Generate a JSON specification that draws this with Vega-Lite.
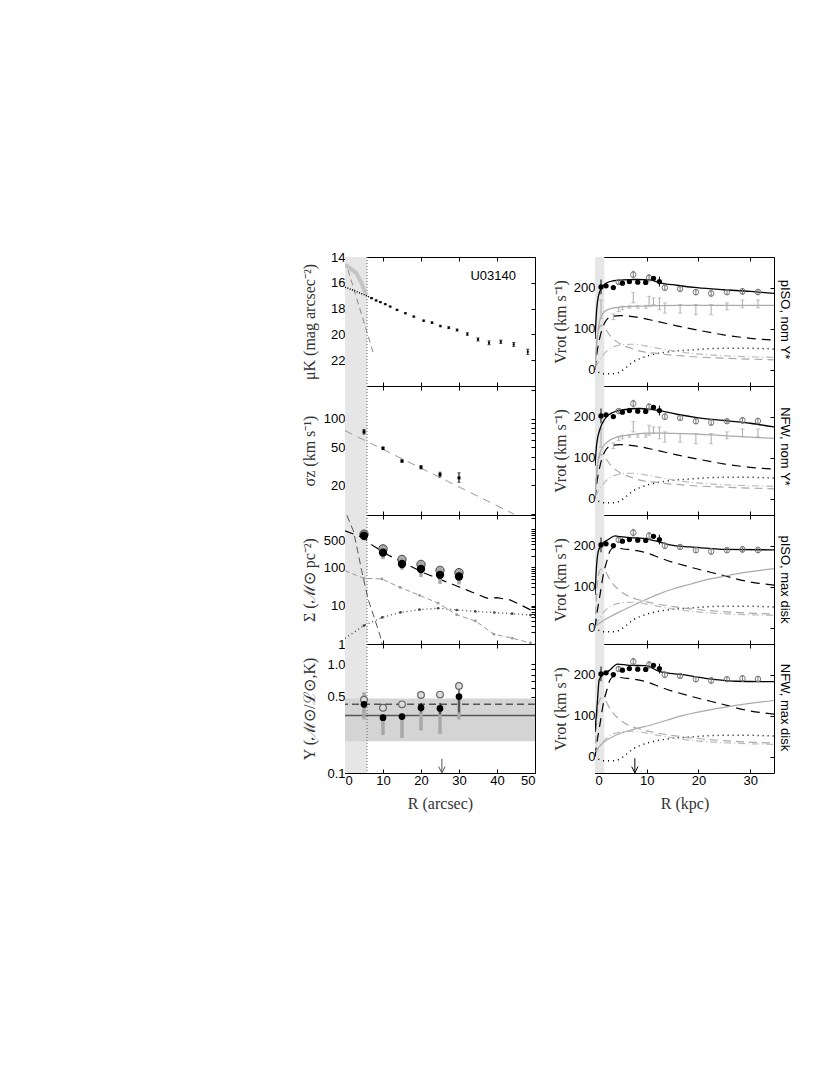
{
"$schema": "https://vega.github.io/schema/vega-lite/v6.json",
"padding": {"left": 300, "top": 250, "right": 20, "bottom": 20},
"background": "white",
"config": {
  "view": {"stroke": "#000", "strokeWidth": 1},
  "axis": {"tickSize": -4, "domain": false, "grid": false, "tickColor": "#000", "labelFont": "Liberation Sans", "labelFontSize": 13, "labelColor": "#000", "labelPadding": 4, "titleFont": "Liberation Serif", "titleFontSize": 16, "titleFontWeight": "normal", "titleColor": "#333"}
},
"datasets": {
  "shL": [{"x": 0, "x2": 5.8}],
  "vlL": [{"x": 5.8}],
  "shR": [{"x": 0, "x2": 1.8}],
  "lab": [{"x": 39, "y": 15.5, "t": "U03140"}],
  "L1in": [{"x":0,"y":16.34},{"x":1,"y":16.44},{"x":2,"y":16.56},{"x":3,"y":16.68},{"x":4,"y":16.8},{"x":5,"y":16.92},{"x":5.8,"y":17.02},{"x":7.0,"y":17.19}],
  "L1g": [{"x":0,"y":14.6},{"x":1.3,"y":14.86},{"x":3,"y":15.25},{"x":4.3,"y":16.0},{"x":5.2,"y":16.7},{"x":5.8,"y":16.95}],
  "L1b": [{"x":0.8,"y":15.0},{"x":7.6,"y":21.6}],
  "L1p": [{"x":7.0,"y":17.19,"lo":17.15,"hi":17.23},{"x":8.2,"y":17.37,"lo":17.33,"hi":17.41},{"x":9.3,"y":17.5,"lo":17.46,"hi":17.54},{"x":10.6,"y":17.66,"lo":17.62,"hi":17.7},{"x":11.9,"y":17.84,"lo":17.8,"hi":17.88},{"x":13.7,"y":18.1,"lo":18.05,"hi":18.15},{"x":15.9,"y":18.36,"lo":18.31,"hi":18.41},{"x":18.1,"y":18.62,"lo":18.57,"hi":18.67},{"x":20.7,"y":18.94,"lo":18.89,"hi":18.99},{"x":22.9,"y":19.09,"lo":19.03,"hi":19.15},{"x":25.1,"y":19.35,"lo":19.29,"hi":19.41},{"x":27.3,"y":19.48,"lo":19.41,"hi":19.55},{"x":29.5,"y":19.66,"lo":19.58,"hi":19.74},{"x":32.2,"y":19.97,"lo":19.87,"hi":20.07},{"x":35.0,"y":20.39,"lo":20.27,"hi":20.51},{"x":37.9,"y":20.65,"lo":20.5,"hi":20.8},{"x":41.0,"y":20.57,"lo":20.44,"hi":20.7},{"x":44.4,"y":20.78,"lo":20.63,"hi":20.93},{"x":48.1,"y":21.35,"lo":21.15,"hi":21.55}],
  "L2l": [{"x":0,"y":75},{"x":44.5,"y":10}],
  "L2p": [{"x":5,"y":73,"lo":69,"hi":77},{"x":10,"y":49,"lo":47.5,"hi":50.5},{"x":15,"y":36,"lo":35,"hi":37},{"x":20,"y":31,"lo":29.8,"hi":32.2},{"x":25,"y":26,"lo":24.5,"hi":27.5},{"x":30,"y":24,"lo":21.6,"hi":27.1}],
  "L3d": [{"x":0,"y":900},{"x":4.8,"y":600},{"x":7.4,"y":366},{"x":11.8,"y":200},{"x":16.2,"y":121},{"x":20.6,"y":73},{"x":25,"y":49},{"x":29.4,"y":32.7},{"x":33.8,"y":21.8},{"x":37.3,"y":15.8},{"x":40,"y":16.2},{"x":43.4,"y":14.2},{"x":46,"y":10.8},{"x":48.7,"y":7.9},{"x":50,"y":6.8}],
  "L3b": [{"x":0.5,"y":2300},{"x":2.2,"y":900},{"x":3.3,"y":280},{"x":4.4,"y":81},{"x":6.1,"y":14.6},{"x":7.4,"y":6},{"x":9.2,"y":1.7},{"x":9.8,"y":0.95}],
  "L3g": [{"x":0,"y":82},{"x":5,"y":52},{"x":9.7,"y":50},{"x":14.5,"y":30},{"x":19.6,"y":18.7},{"x":24.5,"y":11.7},{"x":29.4,"y":5.8},{"x":34.3,"y":4.0},{"x":39.2,"y":1.8},{"x":44,"y":1.42},{"x":48.8,"y":1.06}],
  "L3o": [{"x":0,"y":1.4},{"x":5,"y":3.05},{"x":9.8,"y":4.95},{"x":14.6,"y":6.7},{"x":19.6,"y":7.9},{"x":24.5,"y":8.6},{"x":29.4,"y":7.75},{"x":34.3,"y":7.1},{"x":39.3,"y":6.65},{"x":44,"y":6.2},{"x":48.8,"y":5.7},{"x":50,"y":5.6}],
  "L3k": [{"x":5,"y":670},{"x":10,"y":243},{"x":15,"y":123},{"x":20,"y":91},{"x":25,"y":64},{"x":30,"y":58}],
  "L3y": [{"x":5,"y":738},{"x":10,"y":306},{"x":15,"y":162},{"x":20,"y":120},{"x":25,"y":84},{"x":30,"y":73}],
  "L3e": [{"x":5,"lo":508,"hi":700},{"x":10,"lo":164,"hi":260},{"x":15,"lo":87,"hi":130},{"x":20,"lo":56,"hi":96},{"x":25,"lo":37,"hi":68},{"x":30,"lo":36,"hi":62}],
  "L4band": [{"y":0.196,"y2":0.483}],
  "L4s": [{"y":0.338}],
  "L4d": [{"y":0.427}],
  "L4k": [{"x":5,"y":0.427},{"x":10,"y":0.322},{"x":15,"y":0.33},{"x":20,"y":0.398},{"x":25,"y":0.392},{"x":30,"y":0.503}],
  "L4y": [{"x":5,"y":0.47},{"x":10,"y":0.398},{"x":15,"y":0.427},{"x":20,"y":0.52},{"x":25,"y":0.525},{"x":30,"y":0.63}],
  "L4ge": [{"x":5,"lo":0.31,"hi":0.55},{"x":10,"lo":0.223,"hi":0.322},{"x":15,"lo":0.21,"hi":0.33},{"x":20,"lo":0.246,"hi":0.398},{"x":25,"lo":0.229,"hi":0.39},{"x":30,"lo":0.31,"hi":0.5}],
  "L4ke": [{"x":5,"lo":0.4,"hi":0.46},{"x":10,"lo":0.3,"hi":0.345},{"x":15,"lo":0.31,"hi":0.35},{"x":20,"lo":0.36,"hi":0.44},{"x":25,"lo":0.345,"hi":0.44},{"x":30,"lo":0.36,"hi":0.63}],
  "L4a": [{"x":25.5,"y":0.1,"y2":0.135,"h":0.107}],
  "Rk": [{"x":1.16,"y":202},{"x":2.13,"y":204.5},{"x":3.55,"y":200.3},{"x":5.3,"y":211},{"x":6.65,"y":215},{"x":8.26,"y":213.5},{"x":9.8,"y":213},{"x":11.3,"y":223},{"x":12.45,"y":215}],
  "Rke": [{"x":1.16,"lo":184,"hi":220},{"x":11.3,"lo":219,"hi":227},{"x":12.45,"lo":203,"hi":227}],
  "Ry": [{"x":4.58,"y":214,"lo":209,"hi":219},{"x":7.4,"y":232,"lo":224,"hi":240},{"x":10.45,"y":224,"lo":216,"hi":232},{"x":13.5,"y":200,"lo":193,"hi":207},{"x":16.45,"y":197,"lo":192,"hi":202},{"x":19.5,"y":189,"lo":183,"hi":195},{"x":22.45,"y":186,"lo":179,"hi":193},{"x":25.5,"y":189,"lo":184,"hi":194},{"x":28.5,"y":191,"lo":184,"hi":198},{"x":31.5,"y":189.5,"lo":183,"hi":196}],
  "Rg": [{"x":1.16,"lo":125,"hi":170},{"x":3.55,"lo":122,"hi":136},{"x":4.58,"lo":142,"hi":151},{"x":5.3,"lo":146,"hi":155},{"x":6.65,"lo":150,"hi":156},{"x":7.4,"lo":163,"hi":188},{"x":8.26,"lo":150,"hi":156},{"x":9.8,"lo":150,"hi":156},{"x":10.45,"lo":155,"hi":179},{"x":11.3,"lo":159,"hi":175},{"x":12.45,"lo":146,"hi":175},{"x":13.5,"lo":138,"hi":163},{"x":16.45,"lo":138,"hi":159},{"x":19.5,"lo":134,"hi":159},{"x":22.45,"lo":134,"hi":159},{"x":25.5,"lo":146,"hi":163},{"x":28.5,"lo":151,"hi":170},{"x":31.5,"lo":151,"hi":170}],
  "Rgas": [{"x":0,"y":5},{"x":1,"y":25},{"x":2,"y":42},{"x":3,"y":52},{"x":4.8,"y":60},{"x":7.4,"y":62},{"x":10.6,"y":56},{"x":13.9,"y":48},{"x":18.4,"y":40},{"x":24.8,"y":34},{"x":34.6,"y":30}],
  "Rdot": [{"x":0.65,"y":-6},{"x":1.6,"y":-10},{"x":3.55,"y":-10},{"x":4.8,"y":-6},{"x":6.1,"y":6},{"x":7.4,"y":19},{"x":8.7,"y":27},{"x":10.6,"y":35},{"x":13.9,"y":43},{"x":18.4,"y":48},{"x":24.8,"y":52},{"x":30,"y":52},{"x":34.6,"y":50}],
  "Rbn": [{"x":0,"y":0},{"x":0.3,"y":60},{"x":0.7,"y":98},{"x":1.2,"y":108},{"x":1.8,"y":102},{"x":3,"y":82},{"x":5,"y":62},{"x":7,"y":52},{"x":8.7,"y":45},{"x":11.9,"y":39.5},{"x":18.4,"y":32},{"x":24.8,"y":28},{"x":34.6,"y":24}],
  "Rbm": [{"x":0,"y":0},{"x":0.3,"y":80},{"x":0.7,"y":130},{"x":1.2,"y":143},{"x":1.8,"y":140},{"x":3,"y":115},{"x":5,"y":88},{"x":7,"y":74},{"x":8.7,"y":67},{"x":11.9,"y":58},{"x":18.4,"y":46},{"x":24.8,"y":39},{"x":34.6,"y":33}],
  "Rdn": [{"x":0,"y":0},{"x":0.32,"y":35},{"x":0.97,"y":80},{"x":1.9,"y":115},{"x":2.9,"y":128},{"x":4.8,"y":132},{"x":8.1,"y":128},{"x":11.9,"y":118},{"x":15.8,"y":107},{"x":19.7,"y":97},{"x":24.8,"y":85},{"x":30,"y":76.5},{"x":34.6,"y":72}],
  "Rdm": [{"x":0,"y":0},{"x":0.32,"y":30},{"x":0.97,"y":80},{"x":1.6,"y":129},{"x":2.3,"y":163},{"x":2.9,"y":187},{"x":3.55,"y":195},{"x":5.5,"y":192},{"x":8.1,"y":188},{"x":10.6,"y":180},{"x":12.6,"y":170},{"x":18.6,"y":147},{"x":24,"y":130},{"x":29.8,"y":112},{"x":34.6,"y":104}],
  "R1h": [{"x":0,"y":0},{"x":0.3,"y":60},{"x":0.7,"y":105},{"x":1.2,"y":130},{"x":2,"y":143},{"x":3,"y":149},{"x":5,"y":153},{"x":8,"y":155},{"x":12,"y":156.5},{"x":20,"y":157},{"x":34.6,"y":157}],
  "R2h": [{"x":0,"y":0},{"x":0.32,"y":60},{"x":0.97,"y":113},{"x":2.26,"y":137},{"x":4.2,"y":150},{"x":6.8,"y":155.5},{"x":10,"y":160},{"x":13.2,"y":160},{"x":18.4,"y":158},{"x":24.8,"y":154},{"x":30,"y":150},{"x":34.6,"y":147}],
  "R3h": [{"x":0,"y":3},{"x":2.26,"y":22},{"x":5.5,"y":43},{"x":8.7,"y":62},{"x":11.9,"y":80},{"x":15.2,"y":95},{"x":18.4,"y":106},{"x":21.6,"y":117},{"x":24.8,"y":125},{"x":28.1,"y":133},{"x":34.6,"y":144}],
  "R4h": [{"x":0,"y":12},{"x":1.45,"y":33},{"x":4,"y":52},{"x":7.3,"y":66},{"x":10.5,"y":76},{"x":16.9,"y":100},{"x":23.4,"y":117},{"x":27.2,"y":125},{"x":34.6,"y":137}],
  "R1t": [{"x":0,"y":75},{"x":0.32,"y":146},{"x":0.65,"y":179},{"x":1.29,"y":200},{"x":2.26,"y":212},{"x":3.55,"y":217},{"x":5.48,"y":219},{"x":8.06,"y":220},{"x":10.6,"y":219},{"x":12.6,"y":212},{"x":15.8,"y":206},{"x":19.7,"y":200},{"x":24.8,"y":195},{"x":30,"y":191},{"x":34.6,"y":186}],
  "R2t": [{"x":0,"y":80},{"x":0.32,"y":133},{"x":0.97,"y":170},{"x":1.94,"y":195},{"x":3.55,"y":211},{"x":5.5,"y":217},{"x":8.7,"y":220},{"x":11.9,"y":216},{"x":15.8,"y":206},{"x":19.7,"y":198},{"x":24.8,"y":191},{"x":30,"y":184},{"x":34.6,"y":175}],
  "R3t": [{"x":0,"y":80},{"x":0.32,"y":154},{"x":0.65,"y":187},{"x":1.29,"y":203},{"x":2.58,"y":215},{"x":3.87,"y":224},{"x":4.84,"y":222},{"x":6.8,"y":220},{"x":9.35,"y":218},{"x":11.9,"y":211},{"x":14.5,"y":202},{"x":18.4,"y":197},{"x":21.6,"y":194},{"x":24.8,"y":191},{"x":34.6,"y":190}],
  "R4t": [{"x":0,"y":60},{"x":0.48,"y":137},{"x":0.8,"y":187},{"x":1.45,"y":200},{"x":2.74,"y":210},{"x":4.35,"y":226},{"x":6.6,"y":223},{"x":9.86,"y":222},{"x":12.4,"y":208},{"x":16.9,"y":200},{"x":23.4,"y":188},{"x":27.2,"y":184},{"x":34.6,"y":183}],
  "R4a": [{"x":7.7,"y":-40,"y2":-4,"h":-32}]
},
"hconcat": [
 {"vconcat": [
  {"width":190,"height":129,"resolve":{"axis":{"x":"independent","y":"independent"}},
   "layer":[
    {"data":{"name":"shL"},"mark":{"type":"rect","color":"#e6e6e6"},"encoding":{"x":{"field":"x","type":"quantitative","axis":null},"x2":{"field":"x2"}}},
    {"data":{"name":"vlL"},"mark":{"type":"rule","color":"#666","strokeDash":[1,2]},"encoding":{"x":{"field":"x","type":"quantitative","axis":null}}},
    {"data":{"name":"L1g"},"mark":{"type":"line","color":"#c4c4c4","strokeWidth":4,"clip":true},"encoding":{"x":{"field":"x","type":"quantitative","axis":null},"y":{"field":"y","type":"quantitative","axis":null}}},
    {"data":{"name":"L1b"},"mark":{"type":"line","color":"#888","strokeWidth":1,"strokeDash":[6,4],"clip":true},"encoding":{"x":{"field":"x","type":"quantitative","axis":null},"y":{"field":"y","type":"quantitative","axis":null}}},
    {"data":{"name":"L1in"},"mark":{"type":"line","color":"#000","strokeWidth":1.5,"strokeDash":[1,1.5]},"encoding":{"x":{"field":"x","type":"quantitative","axis":null},"y":{"field":"y","type":"quantitative","axis":null}}},
    {"data":{"name":"L1p"},"mark":{"type":"errorbar","ticks":{"size":3},"color":"#000","thickness":1},"encoding":{"x":{"field":"x","type":"quantitative","axis":null},"y":{"field":"lo","type":"quantitative","axis":null},"y2":{"field":"hi"}}},
    {"data":{"name":"L1p"},"mark":{"type":"point","filled":true,"color":"#000","size":5,"opacity":1},"encoding":{
      "x":{"field":"x","type":"quantitative","scale":{"domain":[0,50],"nice":false,"zero":false},"axis":{"orient":"bottom","values":[0,10,20,30,40,50],"labels":false,"title":null}},
      "y":{"field":"y","type":"quantitative","scale":{"domain":[14,24],"reverse":true,"nice":false,"zero":false},"axis":{"orient":"left","values":[14,16,18,20,22],"labelPadding":4,"title":"μK (mag arcsec⁻²)","titleX":-28,"titleY":64.5,"titleBaseline":"bottom"}}}},
    {"data":{"name":"lab"},"mark":{"type":"text","font":"Liberation Sans","fontSize":13,"color":"#000"},"encoding":{
      "x":{"field":"x","type":"quantitative","scale":{"domain":[0,50],"nice":false,"zero":false},"axis":{"orient":"top","values":[0,10,20,30,40,50],"labels":false,"title":null}},
      "y":{"field":"y","type":"quantitative","scale":{"domain":[14,24],"reverse":true,"nice":false,"zero":false},"axis":{"orient":"right","values":[14,16,18,20,22],"labels":false,"title":null}},
      "text":{"field":"t"}}}
   ]},
  {"width":190,"height":129,"resolve":{"axis":{"x":"independent","y":"independent"}},
   "layer":[
    {"data":{"name":"shL"},"mark":{"type":"rect","color":"#e6e6e6"},"encoding":{"x":{"field":"x","type":"quantitative","axis":null},"x2":{"field":"x2"}}},
    {"data":{"name":"vlL"},"mark":{"type":"rule","color":"#666","strokeDash":[1,2]},"encoding":{"x":{"field":"x","type":"quantitative","axis":null}}},
    {"data":{"name":"L2l"},"mark":{"type":"line","color":"#999","strokeWidth":1,"strokeDash":[8,6],"clip":true},"encoding":{
      "x":{"field":"x","type":"quantitative","scale":{"domain":[0,50],"nice":false,"zero":false},"axis":{"orient":"top","values":[0,10,20,30,40,50],"labels":false,"title":null}},
      "y":{"field":"y","type":"quantitative","scale":{"type":"log","domain":[9.8,220],"nice":false},"axis":{"orient":"right","values":[10,20,30,40,50,60,70,80,90,100,200],"labels":false,"title":null}}}},
    {"data":{"name":"L2p"},"mark":{"type":"errorbar","ticks":{"size":3},"color":"#000","thickness":1},"encoding":{"x":{"field":"x","type":"quantitative","axis":null},"y":{"field":"lo","type":"quantitative","axis":null},"y2":{"field":"hi"}}},
    {"data":{"name":"L2p"},"mark":{"type":"point","shape":"square","filled":true,"color":"#000","size":9,"opacity":1},"encoding":{
      "x":{"field":"x","type":"quantitative","scale":{"domain":[0,50],"nice":false,"zero":false},"axis":{"orient":"bottom","values":[0,10,20,30,40,50],"labels":false,"title":null}},
      "y":{"field":"y","type":"quantitative","scale":{"type":"log","domain":[9.8,220],"nice":false},"axis":{"orient":"left","values":[10,20,30,40,50,60,70,80,90,100,200],"labelExpr":"datum.value == 20 || datum.value == 50 || datum.value == 100 ? format(datum.value, 'd') : ''","title":"σz (km s⁻¹)","titleX":-28,"titleY":64.5,"titleBaseline":"bottom"}}}}
   ]},
  {"width":190,"height":129,"resolve":{"axis":{"x":"independent","y":"independent"}},
   "layer":[
    {"data":{"name":"shL"},"mark":{"type":"rect","color":"#e6e6e6"},"encoding":{"x":{"field":"x","type":"quantitative","axis":null},"x2":{"field":"x2"}}},
    {"data":{"name":"vlL"},"mark":{"type":"rule","color":"#666","strokeDash":[1,2]},"encoding":{"x":{"field":"x","type":"quantitative","axis":null}}},
    {"data":{"name":"L3b"},"mark":{"type":"line","color":"#555","strokeWidth":1,"strokeDash":[7,4],"clip":true},"encoding":{"x":{"field":"x","type":"quantitative","axis":null},"y":{"field":"y","type":"quantitative","axis":null}}},
    {"data":{"name":"L3g"},"mark":{"type":"line","color":"#999","strokeWidth":1,"strokeDash":[5,3],"clip":true},"encoding":{"x":{"field":"x","type":"quantitative","axis":null},"y":{"field":"y","type":"quantitative","axis":null}}},
    {"data":{"name":"L3g"},"transform":[{"filter":"datum.x > 0"}],"mark":{"type":"point","filled":true,"color":"#999","size":8,"opacity":1},"encoding":{"x":{"field":"x","type":"quantitative","axis":null},"y":{"field":"y","type":"quantitative","axis":null}}},
    {"data":{"name":"L3o"},"mark":{"type":"line","color":"#444","strokeWidth":1.3,"strokeDash":[1,3],"clip":true},"encoding":{"x":{"field":"x","type":"quantitative","axis":null},"y":{"field":"y","type":"quantitative","axis":null}}},
    {"data":{"name":"L3o"},"transform":[{"filter":"datum.x > 0 && datum.x < 50"}],"mark":{"type":"point","filled":true,"color":"#444","size":7,"opacity":1},"encoding":{"x":{"field":"x","type":"quantitative","axis":null},"y":{"field":"y","type":"quantitative","axis":null}}},
    {"data":{"name":"L3d"},"mark":{"type":"line","color":"#000","strokeWidth":1.2,"strokeDash":[9,6],"clip":true},"encoding":{
      "x":{"field":"x","type":"quantitative","scale":{"domain":[0,50],"nice":false,"zero":false},"axis":{"orient":"top","values":[0,10,20,30,40,50],"labels":false,"title":null}},
      "y":{"field":"y","type":"quantitative","scale":{"type":"log","domain":[1,2340],"nice":false},"axis":{"orient":"right","values":[1,2,3,4,5,6,7,8,9,10,20,30,40,50,60,70,80,90,100,200,300,400,500,600,700,800,900,1000,2000],"labels":false,"title":null}}}},
    {"data":{"name":"L3e"},"mark":{"type":"rule","color":"#aaa","strokeWidth":3.5},"encoding":{"x":{"field":"x","type":"quantitative","axis":null},"y":{"field":"lo","type":"quantitative","axis":null},"y2":{"field":"hi"}}},
    {"data":{"name":"L3y"},"mark":{"type":"point","filled":true,"fill":"#aaa","stroke":"#444","strokeWidth":1,"size":70,"opacity":1},"encoding":{"x":{"field":"x","type":"quantitative","axis":null},"y":{"field":"y","type":"quantitative","axis":null}}},
    {"data":{"name":"L3k"},"mark":{"type":"point","filled":true,"color":"#000","size":70,"opacity":1},"encoding":{
      "x":{"field":"x","type":"quantitative","scale":{"domain":[0,50],"nice":false,"zero":false},"axis":{"orient":"bottom","values":[0,10,20,30,40,50],"labels":false,"title":null}},
      "y":{"field":"y","type":"quantitative","scale":{"type":"log","domain":[1,2340],"nice":false},"axis":{"orient":"left","values":[1,2,3,4,5,6,7,8,9,10,20,30,40,50,60,70,80,90,100,200,300,400,500,600,700,800,900,1000,2000],"labelExpr":"datum.value == 1 || datum.value == 10 || datum.value == 100 || datum.value == 500 ? format(datum.value, 'd') : ''","title":"Σ (ℳ⊙ pc⁻²)","titleX":-28,"titleY":64.5,"titleBaseline":"bottom"}}}}
   ]},
  {"width":190,"height":129,"resolve":{"axis":{"x":"independent","y":"independent"}},
   "layer":[
    {"data":{"name":"shL"},"mark":{"type":"rect","color":"#e6e6e6"},"encoding":{"x":{"field":"x","type":"quantitative","axis":null},"x2":{"field":"x2"}}},
    {"data":{"name":"L4band"},"mark":{"type":"rect","color":"#d4d4d4"},"encoding":{"y":{"field":"y","type":"quantitative","axis":null},"y2":{"field":"y2"}}},
    {"data":{"name":"vlL"},"mark":{"type":"rule","color":"#666","strokeDash":[1,2]},"encoding":{"x":{"field":"x","type":"quantitative","axis":null}}},
    {"data":{"name":"L4s"},"mark":{"type":"rule","color":"#555","strokeWidth":1.5},"encoding":{"y":{"field":"y","type":"quantitative","axis":null}}},
    {"data":{"name":"L4d"},"mark":{"type":"rule","color":"#555","strokeWidth":1.5,"strokeDash":[7,4]},"encoding":{"y":{"field":"y","type":"quantitative","axis":null}}},
    {"data":{"name":"L4ge"},"mark":{"type":"rule","color":"#a8a8a8","strokeWidth":3.5},"encoding":{"x":{"field":"x","type":"quantitative","axis":null},"y":{"field":"lo","type":"quantitative","axis":null},"y2":{"field":"hi"}}},
    {"data":{"name":"L4ke"},"mark":{"type":"rule","color":"#000","strokeWidth":1},"encoding":{"x":{"field":"x","type":"quantitative","axis":null},"y":{"field":"lo","type":"quantitative","axis":null},"y2":{"field":"hi"}}},
    {"data":{"name":"L4y"},"mark":{"type":"point","filled":true,"fill":"#ddd","stroke":"#666","strokeWidth":1.2,"size":45,"opacity":1},"encoding":{
      "x":{"field":"x","type":"quantitative","scale":{"domain":[0,50],"nice":false,"zero":false},"axis":{"orient":"top","values":[0,10,20,30,40,50],"labels":false,"title":null}},
      "y":{"field":"y","type":"quantitative","scale":{"type":"log","domain":[0.1,1.53],"nice":false},"axis":{"orient":"right","values":[0.1,0.2,0.3,0.4,0.5,0.6,0.7,0.8,0.9,1.0],"labels":false,"title":null}}}},
    {"data":{"name":"L4k"},"mark":{"type":"point","filled":true,"color":"#000","size":45,"opacity":1},"encoding":{
      "x":{"field":"x","type":"quantitative","scale":{"domain":[0,50],"nice":false,"zero":false},"axis":{"orient":"bottom","values":[0,10,20,30,40,50],"labelPadding":5,"title":"R (arcsec)","titleX":95,"titleY":35,"titleBaseline":"alphabetic"}},
      "y":{"field":"y","type":"quantitative","scale":{"type":"log","domain":[0.1,1.53],"nice":false},"axis":{"orient":"left","values":[0.1,0.2,0.3,0.4,0.5,0.6,0.7,0.8,0.9,1.0],"labelExpr":"datum.value == 0.1 || datum.value == 0.5 || datum.value == 1 ? format(datum.value, '.1f') : ''","title":"Υ (ℳ⊙/ℒ⊙,K)","titleX":-28,"titleY":64.5,"titleBaseline":"bottom"}}}},
    {"data":{"name":"L4a"},"mark":{"type":"rule","color":"#555","strokeWidth":1},"encoding":{"x":{"field":"x","type":"quantitative","axis":null},"y":{"field":"y","type":"quantitative","axis":null},"y2":{"field":"y2"}}},
    {"data":{"name":"L4a"},"mark":{"type":"point","shape":"M-1,-1L0,1L1,-1","filled":false,"stroke":"#555","strokeWidth":1,"size":40,"opacity":1},"encoding":{"x":{"field":"x","type":"quantitative","axis":null},"y":{"field":"h","type":"quantitative","axis":null}}}
   ]}
 ], "spacing": 0, "bounds": "flush"},
 {"vconcat": [
  {"width":179,"height":129,"resolve":{"axis":{"x":"independent","y":"independent"}},
   "layer":[
    {"data":{"name":"shR"},"mark":{"type":"rect","color":"#e6e6e6"},"encoding":{"x":{"field":"x","type":"quantitative","axis":null},"x2":{"field":"x2"}}},
    {"data":{"name":"Rdot"},"mark":{"type":"line","color":"#000","strokeWidth":1.5,"strokeDash":[1,4],"interpolate":"monotone","clip":true},"encoding":{"x":{"field":"x","type":"quantitative","axis":null},"y":{"field":"y","type":"quantitative","axis":null}}},
    {"data":{"name":"Rgas"},"mark":{"type":"line","color":"#bbb","strokeWidth":1.2,"strokeDash":[7,3,1,3],"interpolate":"monotone","clip":true},"encoding":{"x":{"field":"x","type":"quantitative","axis":null},"y":{"field":"y","type":"quantitative","axis":null}}},
    {"data":{"name":"Rbn"},"mark":{"type":"line","color":"#aaa","strokeWidth":1.2,"strokeDash":[8,5],"interpolate":"monotone","clip":true},"encoding":{"x":{"field":"x","type":"quantitative","axis":null},"y":{"field":"y","type":"quantitative","axis":null}}},
    {"data":{"name":"Rdn"},"mark":{"type":"line","color":"#000","strokeWidth":1.2,"strokeDash":[9,6],"interpolate":"monotone","clip":true},"encoding":{"x":{"field":"x","type":"quantitative","axis":null},"y":{"field":"y","type":"quantitative","axis":null}}},
    {"data":{"name":"R1h"},"mark":{"type":"line","color":"#aaa","strokeWidth":1.2,"interpolate":"monotone","clip":true},"encoding":{"x":{"field":"x","type":"quantitative","axis":null},"y":{"field":"y","type":"quantitative","axis":null}}},
    {"data":{"name":"Rg"},"mark":{"type":"errorbar","ticks":{"size":4},"color":"#aaa","thickness":1},"encoding":{"x":{"field":"x","type":"quantitative","axis":null},"y":{"field":"lo","type":"quantitative","axis":null},"y2":{"field":"hi"}}},
    {"data":{"name":"R1t"},"mark":{"type":"line","color":"#000","strokeWidth":1.3,"interpolate":"monotone","clip":true},"encoding":{
      "x":{"field":"x","type":"quantitative","scale":{"domain":[0,34.6],"nice":false,"zero":false},"axis":{"orient":"top","values":[0,10,20,30],"labels":false,"title":null}},
      "y":{"field":"y","type":"quantitative","scale":{"domain":[-40,275],"nice":false,"zero":false},"axis":{"orient":"right","values":[0,100,200],"labels":false,"title":"pISO, nom Υ*","titleFont":"Liberation Sans","titleFontSize":13,"titleColor":"#000","titleAngle":90,"titleX":3,"titleY":62,"titleBaseline":"bottom"}}}},
    {"data":{"name":"Ry"},"mark":{"type":"errorbar","ticks":{"size":3},"color":"#777","thickness":1},"encoding":{"x":{"field":"x","type":"quantitative","axis":null},"y":{"field":"lo","type":"quantitative","axis":null},"y2":{"field":"hi"}}},
    {"data":{"name":"Ry"},"mark":{"type":"point","filled":false,"stroke":"#777","strokeWidth":1,"size":30,"opacity":1},"encoding":{"x":{"field":"x","type":"quantitative","axis":null},"y":{"field":"y","type":"quantitative","axis":null}}},
    {"data":{"name":"Rke"},"mark":{"type":"rule","color":"#000","strokeWidth":1},"encoding":{"x":{"field":"x","type":"quantitative","axis":null},"y":{"field":"lo","type":"quantitative","axis":null},"y2":{"field":"hi"}}},
    {"data":{"name":"Rk"},"mark":{"type":"point","filled":true,"color":"#000","size":28,"opacity":1},"encoding":{
      "x":{"field":"x","type":"quantitative","scale":{"domain":[0,34.6],"nice":false,"zero":false},"axis":{"orient":"bottom","values":[0,10,20,30],"labels":false,"title":null}},
      "y":{"field":"y","type":"quantitative","scale":{"domain":[-40,275],"nice":false,"zero":false},"axis":{"orient":"left","values":[0,100,200],"title":"Vrot (km s⁻¹)","titleX":-27,"titleY":64.5,"titleBaseline":"bottom"}}}}
   ]},
  {"width":179,"height":129,"resolve":{"axis":{"x":"independent","y":"independent"}},
   "layer":[
    {"data":{"name":"shR"},"mark":{"type":"rect","color":"#e6e6e6"},"encoding":{"x":{"field":"x","type":"quantitative","axis":null},"x2":{"field":"x2"}}},
    {"data":{"name":"Rdot"},"mark":{"type":"line","color":"#000","strokeWidth":1.5,"strokeDash":[1,4],"interpolate":"monotone","clip":true},"encoding":{"x":{"field":"x","type":"quantitative","axis":null},"y":{"field":"y","type":"quantitative","axis":null}}},
    {"data":{"name":"Rgas"},"mark":{"type":"line","color":"#bbb","strokeWidth":1.2,"strokeDash":[7,3,1,3],"interpolate":"monotone","clip":true},"encoding":{"x":{"field":"x","type":"quantitative","axis":null},"y":{"field":"y","type":"quantitative","axis":null}}},
    {"data":{"name":"Rbn"},"mark":{"type":"line","color":"#aaa","strokeWidth":1.2,"strokeDash":[8,5],"interpolate":"monotone","clip":true},"encoding":{"x":{"field":"x","type":"quantitative","axis":null},"y":{"field":"y","type":"quantitative","axis":null}}},
    {"data":{"name":"Rdn"},"mark":{"type":"line","color":"#000","strokeWidth":1.2,"strokeDash":[9,6],"interpolate":"monotone","clip":true},"encoding":{"x":{"field":"x","type":"quantitative","axis":null},"y":{"field":"y","type":"quantitative","axis":null}}},
    {"data":{"name":"R2h"},"mark":{"type":"line","color":"#aaa","strokeWidth":1.2,"interpolate":"monotone","clip":true},"encoding":{"x":{"field":"x","type":"quantitative","axis":null},"y":{"field":"y","type":"quantitative","axis":null}}},
    {"data":{"name":"Rg"},"mark":{"type":"errorbar","ticks":{"size":4},"color":"#aaa","thickness":1},"encoding":{"x":{"field":"x","type":"quantitative","axis":null},"y":{"field":"lo","type":"quantitative","axis":null},"y2":{"field":"hi"}}},
    {"data":{"name":"R2t"},"mark":{"type":"line","color":"#000","strokeWidth":1.3,"interpolate":"monotone","clip":true},"encoding":{
      "x":{"field":"x","type":"quantitative","scale":{"domain":[0,34.6],"nice":false,"zero":false},"axis":{"orient":"top","values":[0,10,20,30],"labels":false,"title":null}},
      "y":{"field":"y","type":"quantitative","scale":{"domain":[-40,275],"nice":false,"zero":false},"axis":{"orient":"right","values":[0,100,200],"labels":false,"title":"NFW, nom Υ*","titleFont":"Liberation Sans","titleFontSize":13,"titleColor":"#000","titleAngle":90,"titleX":3,"titleY":60,"titleBaseline":"bottom"}}}},
    {"data":{"name":"Ry"},"mark":{"type":"errorbar","ticks":{"size":3},"color":"#777","thickness":1},"encoding":{"x":{"field":"x","type":"quantitative","axis":null},"y":{"field":"lo","type":"quantitative","axis":null},"y2":{"field":"hi"}}},
    {"data":{"name":"Ry"},"mark":{"type":"point","filled":false,"stroke":"#777","strokeWidth":1,"size":30,"opacity":1},"encoding":{"x":{"field":"x","type":"quantitative","axis":null},"y":{"field":"y","type":"quantitative","axis":null}}},
    {"data":{"name":"Rke"},"mark":{"type":"rule","color":"#000","strokeWidth":1},"encoding":{"x":{"field":"x","type":"quantitative","axis":null},"y":{"field":"lo","type":"quantitative","axis":null},"y2":{"field":"hi"}}},
    {"data":{"name":"Rk"},"mark":{"type":"point","filled":true,"color":"#000","size":28,"opacity":1},"encoding":{
      "x":{"field":"x","type":"quantitative","scale":{"domain":[0,34.6],"nice":false,"zero":false},"axis":{"orient":"bottom","values":[0,10,20,30],"labels":false,"title":null}},
      "y":{"field":"y","type":"quantitative","scale":{"domain":[-40,275],"nice":false,"zero":false},"axis":{"orient":"left","values":[0,100,200],"title":"Vrot (km s⁻¹)","titleX":-27,"titleY":64.5,"titleBaseline":"bottom"}}}}
   ]},
  {"width":179,"height":129,"resolve":{"axis":{"x":"independent","y":"independent"}},
   "layer":[
    {"data":{"name":"shR"},"mark":{"type":"rect","color":"#e6e6e6"},"encoding":{"x":{"field":"x","type":"quantitative","axis":null},"x2":{"field":"x2"}}},
    {"data":{"name":"Rdot"},"mark":{"type":"line","color":"#000","strokeWidth":1.5,"strokeDash":[1,4],"interpolate":"monotone","clip":true},"encoding":{"x":{"field":"x","type":"quantitative","axis":null},"y":{"field":"y","type":"quantitative","axis":null}}},
    {"data":{"name":"Rgas"},"mark":{"type":"line","color":"#bbb","strokeWidth":1.2,"strokeDash":[7,3,1,3],"interpolate":"monotone","clip":true},"encoding":{"x":{"field":"x","type":"quantitative","axis":null},"y":{"field":"y","type":"quantitative","axis":null}}},
    {"data":{"name":"Rbm"},"mark":{"type":"line","color":"#aaa","strokeWidth":1.2,"strokeDash":[8,5],"interpolate":"monotone","clip":true},"encoding":{"x":{"field":"x","type":"quantitative","axis":null},"y":{"field":"y","type":"quantitative","axis":null}}},
    {"data":{"name":"Rdm"},"mark":{"type":"line","color":"#000","strokeWidth":1.2,"strokeDash":[9,6],"interpolate":"monotone","clip":true},"encoding":{"x":{"field":"x","type":"quantitative","axis":null},"y":{"field":"y","type":"quantitative","axis":null}}},
    {"data":{"name":"R3h"},"mark":{"type":"line","color":"#aaa","strokeWidth":1.2,"interpolate":"monotone","clip":true},"encoding":{"x":{"field":"x","type":"quantitative","axis":null},"y":{"field":"y","type":"quantitative","axis":null}}},
    {"data":{"name":"R3t"},"mark":{"type":"line","color":"#000","strokeWidth":1.3,"interpolate":"monotone","clip":true},"encoding":{
      "x":{"field":"x","type":"quantitative","scale":{"domain":[0,34.6],"nice":false,"zero":false},"axis":{"orient":"top","values":[0,10,20,30],"labels":false,"title":null}},
      "y":{"field":"y","type":"quantitative","scale":{"domain":[-40,275],"nice":false,"zero":false},"axis":{"orient":"right","values":[0,100,200],"labels":false,"title":"pISO, max disk","titleFont":"Liberation Sans","titleFontSize":13,"titleColor":"#000","titleAngle":90,"titleX":3,"titleY":64,"titleBaseline":"bottom"}}}},
    {"data":{"name":"Ry"},"mark":{"type":"errorbar","ticks":{"size":3},"color":"#777","thickness":1},"encoding":{"x":{"field":"x","type":"quantitative","axis":null},"y":{"field":"lo","type":"quantitative","axis":null},"y2":{"field":"hi"}}},
    {"data":{"name":"Ry"},"mark":{"type":"point","filled":false,"stroke":"#777","strokeWidth":1,"size":30,"opacity":1},"encoding":{"x":{"field":"x","type":"quantitative","axis":null},"y":{"field":"y","type":"quantitative","axis":null}}},
    {"data":{"name":"Rke"},"mark":{"type":"rule","color":"#000","strokeWidth":1},"encoding":{"x":{"field":"x","type":"quantitative","axis":null},"y":{"field":"lo","type":"quantitative","axis":null},"y2":{"field":"hi"}}},
    {"data":{"name":"Rk"},"mark":{"type":"point","filled":true,"color":"#000","size":28,"opacity":1},"encoding":{
      "x":{"field":"x","type":"quantitative","scale":{"domain":[0,34.6],"nice":false,"zero":false},"axis":{"orient":"bottom","values":[0,10,20,30],"labels":false,"title":null}},
      "y":{"field":"y","type":"quantitative","scale":{"domain":[-40,275],"nice":false,"zero":false},"axis":{"orient":"left","values":[0,100,200],"title":"Vrot (km s⁻¹)","titleX":-27,"titleY":64.5,"titleBaseline":"bottom"}}}}
   ]},
  {"width":179,"height":129,"resolve":{"axis":{"x":"independent","y":"independent"}},
   "layer":[
    {"data":{"name":"shR"},"mark":{"type":"rect","color":"#e6e6e6"},"encoding":{"x":{"field":"x","type":"quantitative","axis":null},"x2":{"field":"x2"}}},
    {"data":{"name":"Rdot"},"mark":{"type":"line","color":"#000","strokeWidth":1.5,"strokeDash":[1,4],"interpolate":"monotone","clip":true},"encoding":{"x":{"field":"x","type":"quantitative","axis":null},"y":{"field":"y","type":"quantitative","axis":null}}},
    {"data":{"name":"Rgas"},"mark":{"type":"line","color":"#bbb","strokeWidth":1.2,"strokeDash":[7,3,1,3],"interpolate":"monotone","clip":true},"encoding":{"x":{"field":"x","type":"quantitative","axis":null},"y":{"field":"y","type":"quantitative","axis":null}}},
    {"data":{"name":"Rbm"},"mark":{"type":"line","color":"#aaa","strokeWidth":1.2,"strokeDash":[8,5],"interpolate":"monotone","clip":true},"encoding":{"x":{"field":"x","type":"quantitative","axis":null},"y":{"field":"y","type":"quantitative","axis":null}}},
    {"data":{"name":"Rdm"},"mark":{"type":"line","color":"#000","strokeWidth":1.2,"strokeDash":[9,6],"interpolate":"monotone","clip":true},"encoding":{"x":{"field":"x","type":"quantitative","axis":null},"y":{"field":"y","type":"quantitative","axis":null}}},
    {"data":{"name":"R4h"},"mark":{"type":"line","color":"#aaa","strokeWidth":1.2,"interpolate":"monotone","clip":true},"encoding":{"x":{"field":"x","type":"quantitative","axis":null},"y":{"field":"y","type":"quantitative","axis":null}}},
    {"data":{"name":"R4t"},"mark":{"type":"line","color":"#000","strokeWidth":1.3,"interpolate":"monotone","clip":true},"encoding":{
      "x":{"field":"x","type":"quantitative","scale":{"domain":[0,34.6],"nice":false,"zero":false},"axis":{"orient":"top","values":[0,10,20,30],"labels":false,"title":null}},
      "y":{"field":"y","type":"quantitative","scale":{"domain":[-40,275],"nice":false,"zero":false},"axis":{"orient":"right","values":[0,100,200],"labels":false,"title":"NFW, max disk","titleFont":"Liberation Sans","titleFontSize":13,"titleColor":"#000","titleAngle":90,"titleX":3,"titleY":63,"titleBaseline":"bottom"}}}},
    {"data":{"name":"Ry"},"mark":{"type":"errorbar","ticks":{"size":3},"color":"#777","thickness":1},"encoding":{"x":{"field":"x","type":"quantitative","axis":null},"y":{"field":"lo","type":"quantitative","axis":null},"y2":{"field":"hi"}}},
    {"data":{"name":"Ry"},"mark":{"type":"point","filled":false,"stroke":"#777","strokeWidth":1,"size":30,"opacity":1},"encoding":{"x":{"field":"x","type":"quantitative","axis":null},"y":{"field":"y","type":"quantitative","axis":null}}},
    {"data":{"name":"Rke"},"mark":{"type":"rule","color":"#000","strokeWidth":1},"encoding":{"x":{"field":"x","type":"quantitative","axis":null},"y":{"field":"lo","type":"quantitative","axis":null},"y2":{"field":"hi"}}},
    {"data":{"name":"Rk"},"mark":{"type":"point","filled":true,"color":"#000","size":28,"opacity":1},"encoding":{
      "x":{"field":"x","type":"quantitative","scale":{"domain":[0,34.6],"nice":false,"zero":false},"axis":{"orient":"bottom","values":[0,10,20,30],"labelPadding":5,"title":"R (kpc)","titleX":89.5,"titleY":35,"titleBaseline":"alphabetic"}},
      "y":{"field":"y","type":"quantitative","scale":{"domain":[-40,275],"nice":false,"zero":false},"axis":{"orient":"left","values":[0,100,200],"title":"Vrot (km s⁻¹)","titleX":-27,"titleY":64.5,"titleBaseline":"bottom"}}}},
    {"data":{"name":"R4a"},"mark":{"type":"rule","color":"#000","strokeWidth":1},"encoding":{"x":{"field":"x","type":"quantitative","axis":null},"y":{"field":"y","type":"quantitative","axis":null},"y2":{"field":"y2"}}},
    {"data":{"name":"R4a"},"mark":{"type":"point","shape":"M-1,-1L0,1L1,-1","filled":false,"stroke":"#000","strokeWidth":1,"size":40,"opacity":1},"encoding":{"x":{"field":"x","type":"quantitative","axis":null},"y":{"field":"h","type":"quantitative","axis":null}}}
   ]}
 ], "spacing": 0, "bounds": "flush"}
],
"spacing": 14,
"bounds": "full"
}
